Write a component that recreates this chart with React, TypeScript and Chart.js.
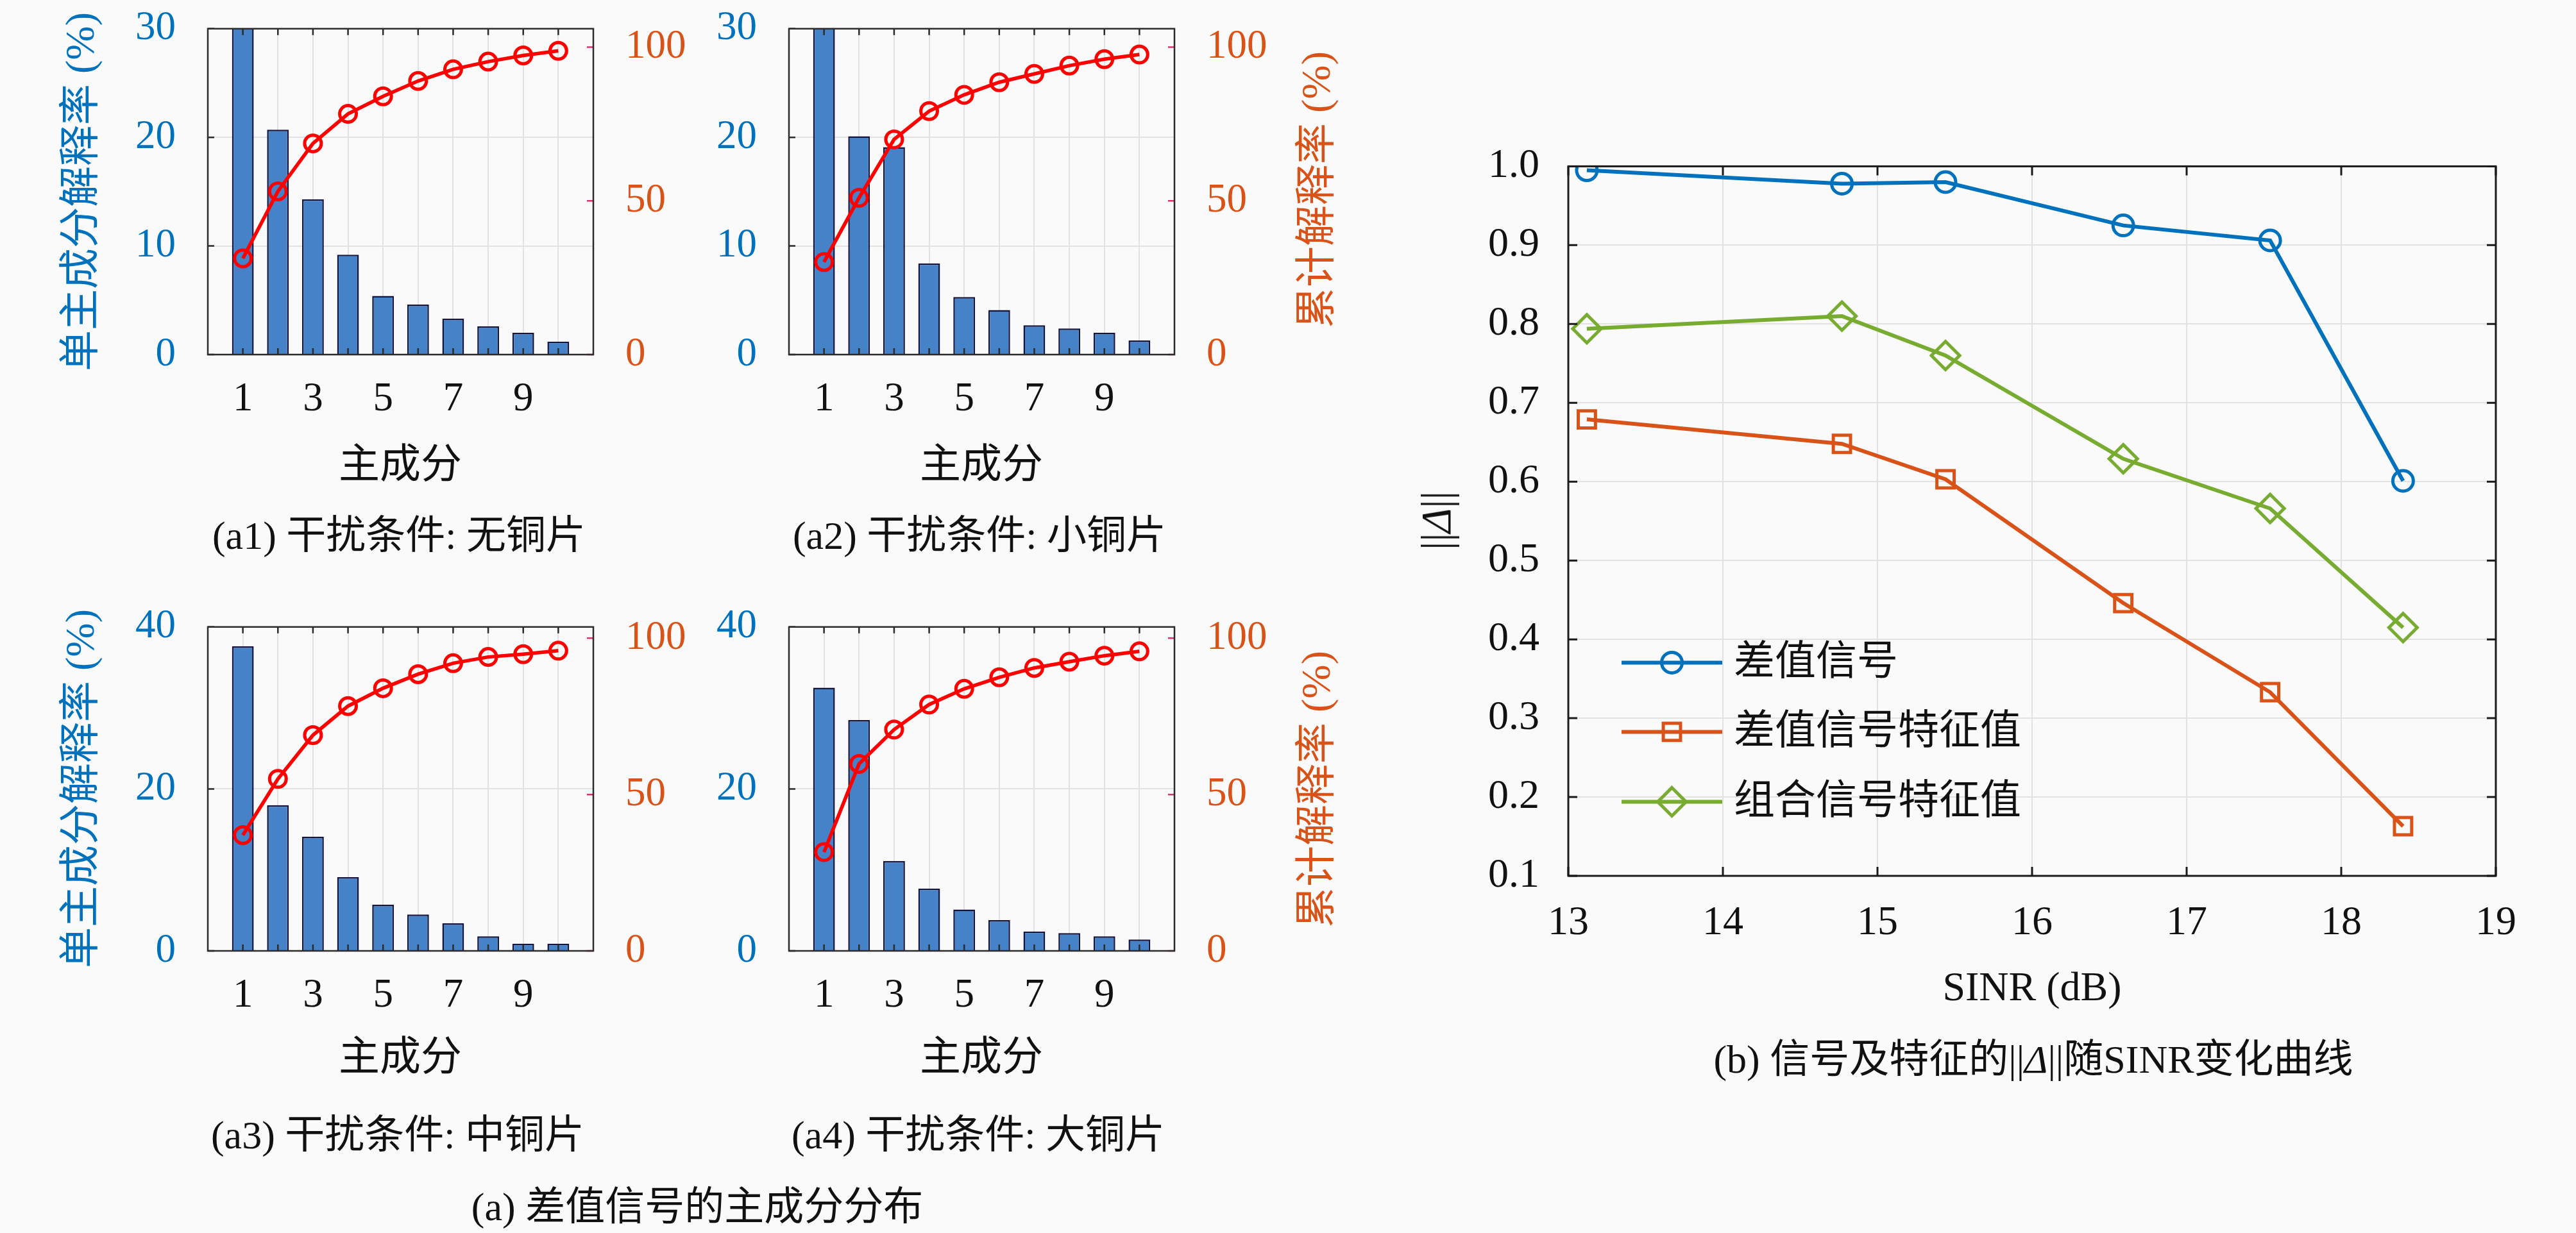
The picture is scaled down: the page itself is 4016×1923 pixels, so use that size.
import { useEffect, useRef } from 'react';
import { Chart, registerables } from 'chart.js';

// Register everything, we use bar + line + linear scales
Chart.register(...registerables);

const SERIF = "'Liberation Serif', 'Noto Sans CJK SC', serif";
const BLUE = '#0072bd';
const ORANGE = '#d95319';
const GREEN = '#77ac30';
const RED = '#ff0000';
const BAR_FILL = '#4682c8';
const BAR_EDGE = '#14143c';
const GRID = '#e2e2e2';
const INK = '#111111';
const PAGE_BG = '#fafafa';

// principal components on the x axis of the (a) panels
const components = [1, 2, 3, 4, 5, 6, 7, 8, 9, 10];
const componentLabels = [1, 3, 5, 7, 9];

// (a1) no copper sheet
const noCopperSingle = [31.3, 20.7, 14.3, 9.2, 5.4, 4.6, 3.3, 2.6, 2.0, 1.2];
const noCopperCumulative = [31.3, 53.1, 68.7, 78.3, 84.0, 89.0, 92.8, 95.3, 97.3, 98.8];

// (a2) small copper sheet
const smallCopperSingle = [30.1, 20.1, 19.1, 8.4, 5.3, 4.1, 2.7, 2.4, 2.0, 1.3];
const smallCopperCumulative = [30.1, 51.0, 70.0, 79.2, 84.5, 88.6, 91.3, 94.0, 96.1, 97.6];

// (a3) medium copper sheet
const mediumCopperSingle = [37.6, 18.0, 14.1, 9.1, 5.7, 4.5, 3.4, 1.8, 0.9, 0.9];
const mediumCopperCumulative = [37.0, 55.0, 69.0, 78.3, 84.0, 88.5, 92.0, 94.0, 94.9, 96.0];

// (a4) large copper sheet
const largeCopperSingle = [32.5, 28.5, 11.1, 7.7, 5.1, 3.8, 2.4, 2.2, 1.8, 1.4];
const largeCopperCumulative = [31.6, 59.8, 70.8, 78.8, 83.8, 87.5, 90.5, 92.5, 94.4, 95.8];

const singleTicksTopRow = [0, 10, 20, 30];
const singleTicksBottomRow = [0, 20, 40];
const cumulativeTicks = [0, 50, 100];

// (b) ||Δ|| against SINR
const sinr = [13.12, 14.77, 15.44, 16.59, 17.54, 18.4];
const diffSignal = [0.995, 0.978, 0.98, 0.925, 0.906, 0.601];
const diffSignalEigen = [0.679, 0.648, 0.603, 0.446, 0.333, 0.163];
const comboSignalEigen = [0.794, 0.81, 0.76, 0.629, 0.566, 0.415];
const seriesNames = ['差值信号', '差值信号特征值', '组合信号特征值'];
const sinrTicks = [13, 14, 15, 16, 17, 18, 19];
const deltaTicks = [0.1, 0.2, 0.3, 0.4, 0.5, 0.6, 0.7, 0.8, 0.9, 1.0];

type Margins = { left: number; right: number; top: number; bottom: number };

// box around the plot area + short ticks pointing inwards (matlab style)
const framePlugin = {
  id: 'frame',
  afterDatasetsDraw(chart: any, _args: any, opts: any) {
    const { ctx, chartArea: a } = chart;
    ctx.save();
    for (const mark of opts.marks || []) {
      const scale = chart.scales[mark.scale];
      ctx.strokeStyle = mark.color;
      ctx.lineWidth = opts.width;
      ctx.beginPath();
      for (const t of scale.ticks) {
        const p = scale.getPixelForValue(t.value);
        for (const side of mark.sides) {
          if (side === 'bottom') { ctx.moveTo(p, a.bottom); ctx.lineTo(p, a.bottom - opts.length); }
          if (side === 'top') { ctx.moveTo(p, a.top); ctx.lineTo(p, a.top + opts.length); }
          if (side === 'left') { ctx.moveTo(a.left, p); ctx.lineTo(a.left + opts.length, p); }
          if (side === 'right') { ctx.moveTo(a.right, p); ctx.lineTo(a.right - opts.length, p); }
        }
      }
      ctx.stroke();
    }
    ctx.strokeStyle = opts.color;
    ctx.lineWidth = opts.width;
    ctx.strokeRect(a.left, a.top, a.right - a.left, a.bottom - a.top);
    ctx.restore();
  },
};

function drawMarker(ctx: CanvasRenderingContext2D, style: string, x: number, y: number, r: number) {
  ctx.beginPath();
  if (style === 'rect') {
    const s = r * Math.SQRT1_2;
    ctx.rect(x - s, y - s, 2 * s, 2 * s);
  } else if (style === 'rectRot') {
    ctx.moveTo(x, y - r);
    ctx.lineTo(x + r, y);
    ctx.lineTo(x, y + r);
    ctx.lineTo(x - r, y);
    ctx.closePath();
  } else {
    ctx.arc(x, y, r, 0, Math.PI * 2);
  }
  ctx.stroke();
}

// legend sitting inside the plot area, lower left
const insideLegendPlugin = {
  id: 'insideLegend',
  afterDraw(chart: any, _args: any, opts: any) {
    const { ctx, chartArea: a } = chart;
    ctx.save();
    ctx.font = `${opts.fontSize}px ${SERIF}`;
    ctx.textBaseline = 'middle';
    ctx.textAlign = 'left';
    chart.data.datasets.forEach((ds: any, i: number) => {
      const y = a.top + opts.rows[i];
      ctx.strokeStyle = ds.borderColor;
      ctx.lineWidth = ds.borderWidth;
      ctx.beginPath();
      ctx.moveTo(a.left + opts.lineStart, y);
      ctx.lineTo(a.left + opts.lineEnd, y);
      ctx.stroke();
      ctx.lineWidth = ds.pointBorderWidth;
      drawMarker(ctx, ds.pointStyle, a.left + (opts.lineStart + opts.lineEnd) / 2, y, ds.pointRadius);
      ctx.fillStyle = INK;
      ctx.fillText(ds.label, a.left + opts.textStart, y + 2);
    });
    ctx.restore();
  },
};

const tickFont = { family: SERIF, size: 63 };

function panelConfig(single: number[], cumulative: number[], leftTicks: number[], rightMax: number, m: Margins): any {
  return {
    type: 'bar',
    data: {
      datasets: [
        {
          type: 'line',
          data: components.map((c, i) => ({ x: c, y: cumulative[i] })),
          yAxisID: 'y1',
          borderColor: RED,
          borderWidth: 5.5,
          pointStyle: 'circle',
          pointRadius: 13,
          pointBorderWidth: 5,
          pointBorderColor: RED,
          pointBackgroundColor: 'rgba(0,0,0,0)',
          tension: 0,
          order: 1,
        },
        {
          type: 'bar',
          data: components.map((c, i) => ({ x: c, y: single[i] })),
          yAxisID: 'y',
          backgroundColor: BAR_FILL,
          borderColor: BAR_EDGE,
          borderWidth: 2.5,
          barPercentage: 0.62,
          categoryPercentage: 1,
          order: 2,
        },
      ],
    },
    options: {
      animation: false,
      responsive: false,
      maintainAspectRatio: false,
      layout: { padding: { top: m.top, left: 0, right: 0, bottom: 0 } },
      plugins: {
        legend: { display: false },
        tooltip: { enabled: false },
        frame: {
          color: '#2b2b2b',
          width: 2.5,
          length: 10,
          marks: [
            { scale: 'x', sides: ['bottom', 'top'], color: '#2b2b2b' },
            { scale: 'y', sides: ['left'], color: '#2b2b2b' },
            { scale: 'y1', sides: ['right'], color: '#e0306a' },
          ],
        },
      },
      scales: {
        x: {
          type: 'linear',
          min: 0,
          max: 11,
          offset: false,
          afterBuildTicks: (s: any) => { s.ticks = components.map((v) => ({ value: v })); },
          afterFit: (s: any) => { s.height = m.bottom; },
          ticks: {
            autoSkip: false,
            maxRotation: 0,
            padding: 33,
            color: INK,
            font: tickFont,
            callback: (v: any) => (componentLabels.includes(Number(v)) ? String(v) : ''),
          },
          grid: { color: GRID, lineWidth: 2, drawTicks: false, offset: false },
          border: { display: false },
        },
        y: {
          type: 'linear',
          position: 'left',
          min: 0,
          max: leftTicks[leftTicks.length - 1],
          afterBuildTicks: (s: any) => { s.ticks = leftTicks.map((v) => ({ value: v })); },
          afterFit: (s: any) => { s.width = m.left; },
          ticks: { padding: 50, color: BLUE, font: tickFont },
          grid: { color: GRID, lineWidth: 2, drawTicks: false },
          border: { display: false },
        },
        y1: {
          type: 'linear',
          position: 'right',
          min: 0,
          max: rightMax,
          afterBuildTicks: (s: any) => { s.ticks = cumulativeTicks.map((v) => ({ value: v })); },
          afterFit: (s: any) => { s.width = m.right; },
          ticks: { padding: 50, color: ORANGE, font: tickFont },
          grid: { display: false, drawTicks: false },
          border: { display: false },
        },
      },
    },
    plugins: [framePlugin],
  };
}

function deltaConfig(m: Margins): any {
  const line = (name: string, values: number[], color: string, style: string, radius: number) => ({
    label: name,
    data: sinr.map((x, i) => ({ x, y: values[i] })),
    borderColor: color,
    borderWidth: 6,
    pointStyle: style,
    pointRadius: radius,
    pointBorderWidth: 5,
    pointBorderColor: color,
    pointBackgroundColor: 'rgba(0,0,0,0)',
    tension: 0,
  });
  return {
    type: 'line',
    data: {
      datasets: [
        line(seriesNames[0], diffSignal, BLUE, 'circle', 16),
        line(seriesNames[1], diffSignalEigen, ORANGE, 'rect', 19),
        line(seriesNames[2], comboSignalEigen, GREEN, 'rectRot', 22),
      ],
    },
    options: {
      animation: false,
      responsive: false,
      maintainAspectRatio: false,
      layout: { padding: { top: m.top, left: 0, right: m.right, bottom: 0 } },
      plugins: {
        legend: { display: false },
        tooltip: { enabled: false },
        frame: {
          color: '#1a1a1a',
          width: 3,
          length: 14,
          marks: [
            { scale: 'x', sides: ['bottom', 'top'], color: '#1a1a1a' },
            { scale: 'y', sides: ['left', 'right'], color: '#1a1a1a' },
          ],
        },
        insideLegend: { rows: [774, 882, 991], lineStart: 83, lineEnd: 240, textStart: 258, fontSize: 64 },
      },
      scales: {
        x: {
          type: 'linear',
          min: 13,
          max: 19,
          afterBuildTicks: (s: any) => { s.ticks = sinrTicks.map((v) => ({ value: v })); },
          afterFit: (s: any) => { s.height = m.bottom; },
          ticks: { autoSkip: false, maxRotation: 0, padding: 36, color: INK, font: { family: SERIF, size: 64 } },
          grid: { color: GRID, lineWidth: 2, drawTicks: false },
          border: { display: false },
        },
        y: {
          type: 'linear',
          min: 0.1,
          max: 1.0,
          afterBuildTicks: (s: any) => { s.ticks = deltaTicks.map((v) => ({ value: v })); },
          afterFit: (s: any) => { s.width = m.left; },
          ticks: {
            padding: 45,
            color: INK,
            font: { family: SERIF, size: 64 },
            callback: (v: any) => Number(v).toFixed(1),
          },
          grid: { color: GRID, lineWidth: 2, drawTicks: false },
          border: { display: false },
        },
      },
    },
    plugins: [framePlugin, insideLegendPlugin],
  };
}

// a canvas placed so that the chart area lands on plot rect (x, y, w, h)
function ChartBox({ x, y, w, h, m, make }: { x: number; y: number; w: number; h: number; m: Margins; make: (m: Margins) => any }) {
  const ref = useRef<HTMLCanvasElement | null>(null);
  const width = w + m.left + m.right;
  const height = h + m.top + m.bottom;

  useEffect(() => {
    const canvas = ref.current;
    if (!canvas) return;
    const chart = new Chart(canvas, make(m));

    // chart.js may push the area down for the half-height of the top tick label,
    // so grow the canvas by what it took and move it back onto the plot rect
    const a = chart.chartArea;
    const fitW = Math.round(a.left + w + (width - a.right));
    const fitH = Math.round(a.top + h + (height - a.bottom));
    if (fitW !== width || fitH !== height) chart.resize(fitW, fitH);
    const b = chart.chartArea;
    canvas.style.left = `${x - b.left}px`;
    canvas.style.top = `${y - b.top}px`;
    canvas.style.width = `${fitW}px`;
    canvas.style.height = `${fitH}px`;

    return () => {
      chart.destroy();
    };
  }, []);

  return (
    <canvas
      ref={ref}
      width={width}
      height={height}
      style={{ position: 'absolute', left: x - m.left, top: y - m.top, width, height }}
    />
  );
}

function Label({ x, y, size = 63, color = INK, vertical = false, children }: any) {
  return (
    <div
      style={{
        position: 'absolute',
        left: x,
        top: y,
        transform: `translate(-50%, -50%)${vertical ? ' rotate(-90deg)' : ''}`,
        fontFamily: SERIF,
        fontSize: size,
        lineHeight: 1,
        color,
        whiteSpace: 'nowrap',
      }}
    >
      {children}
    </div>
  );
}

const panelMargins: Margins = { left: 150, right: 170, top: 44, bottom: 120 };
const deltaMargins: Margins = { left: 200, right: 70, top: 50, bottom: 130 };

export default function App() {
  const panels = [
    { x: 324, y: 45, h: 508, single: noCopperSingle, cum: noCopperCumulative, ticks: singleTicksTopRow, rmax: 106 },
    { x: 1230, y: 45, h: 508, single: smallCopperSingle, cum: smallCopperCumulative, ticks: singleTicksTopRow, rmax: 106 },
    { x: 324, y: 978, h: 505, single: mediumCopperSingle, cum: mediumCopperCumulative, ticks: singleTicksBottomRow, rmax: 103.6 },
    { x: 1230, y: 978, h: 505, single: largeCopperSingle, cum: largeCopperCumulative, ticks: singleTicksBottomRow, rmax: 103.6 },
  ];

  return (
    <div style={{ position: 'absolute', left: 0, top: 0, width: 4016, height: 1923, background: PAGE_BG, overflow: 'hidden' }}>
      {panels.map((p, i) => (
        <ChartBox
          key={i}
          x={p.x}
          y={p.y}
          w={601}
          h={p.h}
          m={panelMargins}
          make={(m) => panelConfig(p.single, p.cum, p.ticks, p.rmax, m)}
        />
      ))}

      <Label x={125} y={299} size={64} color={BLUE} vertical>单主成分解释率 (%)</Label>
      <Label x={125} y={1230} size={64} color={BLUE} vertical>单主成分解释率 (%)</Label>
      <Label x={2052} y={296} size={64} color={ORANGE} vertical>累计解释率 (%)</Label>
      <Label x={2052} y={1231} size={64} color={ORANGE} vertical>累计解释率 (%)</Label>

      <Label x={624} y={724} size={64}>主成分</Label>
      <Label x={1530} y={724} size={64}>主成分</Label>
      <Label x={624} y={1648} size={64}>主成分</Label>
      <Label x={1530} y={1648} size={64}>主成分</Label>

      <Label x={622} y={835} size={62}>(a1) 干扰条件: 无铜片</Label>
      <Label x={1527} y={835} size={62}>(a2) 干扰条件: 小铜片</Label>
      <Label x={620} y={1770} size={62}>(a3) 干扰条件: 中铜片</Label>
      <Label x={1525} y={1770} size={62}>(a4) 干扰条件: 大铜片</Label>
      <Label x={1087} y={1882} size={62}>(a) 差值信号的主成分分布</Label>

      <ChartBox x={2445} y={259} w={1446} h={1107} m={deltaMargins} make={deltaConfig} />
      <Label x={2239} y={812} size={66} vertical>||<i>Δ</i>||</Label>
      <Label x={3168} y={1539} size={64}>SINR (dB)</Label>
      <Label x={3170} y={1652} size={62}>(b) 信号及特征的||<i>Δ</i>||随SINR变化曲线</Label>
    </div>
  );
}
